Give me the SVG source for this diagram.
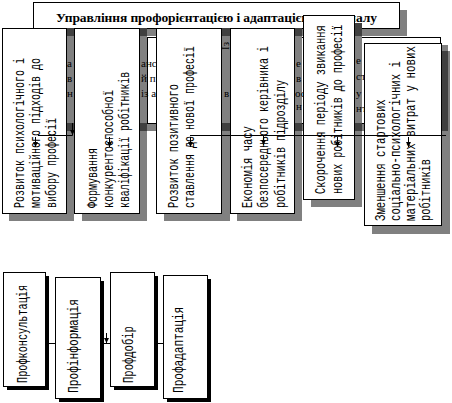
<svg xmlns="http://www.w3.org/2000/svg" width="452" height="403" viewBox="0 0 452 403">
<defs>
<marker id="ah" viewBox="0 0 6 6" refX="6" refY="3" markerWidth="5" markerHeight="5" markerUnits="userSpaceOnUse" orient="auto"><path d="M0,0 L6,3 L0,6 z" fill="#000"/></marker>
<style>
.box{fill:#fff;stroke:#000;stroke-width:1}
.sh{fill:#808080}
.dk{fill:#404040}
.bsh{fill:#000}
.vt{font-family:"Liberation Mono","DejaVu Sans Mono",monospace;font-size:14px;fill:#000}
.fr{font-family:"Liberation Serif","Times New Roman",serif;font-size:11px;fill:#000}
.ttl{font-family:"Liberation Serif","Times New Roman",serif;font-size:13.5px;font-weight:bold;fill:#000}
.ln{fill:none;stroke:#000;stroke-width:1}
</style>
</defs>
<rect width="452" height="403" fill="#fff"/>

<g id="title">
<rect class="sh" x="41" y="10" width="366" height="26"/>
<rect class="box" x="33.5" y="2.5" width="366" height="26"/>
<text class="ttl" x="56" y="22" textLength="321" lengthAdjust="spacing">Управління профорієнтацією і адаптацією персоналу</text>
</g>

<g id="hidden-layer">
<rect class="sh" x="9" y="123" width="439" height="8"/>
<rect class="sh" x="442" y="45" width="6" height="78"/>
<rect class="box" x="147.5" y="37.5" width="293" height="86"/>
</g>

<g id="shadows">
<rect class="sh" x="9" y="28" width="65" height="193"/>
<rect class="sh" x="82" y="28" width="65" height="193"/>
<rect class="sh" x="164" y="28" width="66" height="193"/>
<rect class="sh" x="237" y="28" width="65" height="193"/>
<rect class="sh" x="311" y="23" width="51" height="184"/>
<rect class="sh" x="372" y="51" width="78" height="183"/>
<rect class="dk" x="41" y="28" width="33" height="8"/>
<rect class="dk" x="82" y="28" width="65" height="8"/>
<rect class="dk" x="164" y="28" width="66" height="8"/>
<rect class="dk" x="237" y="28" width="65" height="8"/>
<rect class="dk" x="311" y="23" width="51" height="13"/>
<rect class="dk" x="9" y="123" width="65" height="8"/>
<rect class="dk" x="82" y="123" width="65" height="8"/>
<rect class="dk" x="164" y="123" width="66" height="8"/>
<rect class="dk" x="237" y="123" width="65" height="8"/>
<rect class="dk" x="311" y="123" width="51" height="8"/>
<rect class="dk" x="372" y="123" width="76" height="8"/>
<rect class="dk" x="442" y="51" width="6" height="72"/>
</g>

<g id="fragments">
<text class="fr" x="67" y="67">а</text>
<text class="fr" x="67" y="82">в</text>
<text class="fr" x="67" y="97">н</text>
<text class="fr" x="141" y="67">анс</text>
<text class="fr" x="141" y="82">й п</text>
<text class="fr" x="141" y="97">із а</text>
<text class="fr" transform="translate(229,50) rotate(-90)">Із</text>
<text class="fr" x="224" y="97">в</text>
<text class="fr" x="296" y="67">е</text>
<text class="fr" x="296" y="82">в</text>
<text class="fr" x="295" y="97">ос</text>
<text class="fr" x="296" y="110">н</text>
<text class="fr" x="356" y="64">е</text>
<text class="fr" x="356" y="80">ст</text>
<text class="fr" x="356" y="97">у</text>
<text class="fr" x="356" y="112">нт</text>
</g>

<g id="n1">
<rect class="box" x="2.5" y="28.5" width="64" height="185"/>
<text class="vt" transform="translate(24,208) rotate(-90) scale(0.714,1)">Розвиток психологічного і</text>
<text class="vt" transform="translate(40,208) rotate(-90) scale(0.714,1)">мотиваційного підходів до</text>
<text class="vt" transform="translate(56,208) rotate(-90) scale(0.714,1)">вибору професії</text>
</g>

<g id="n2">
<rect class="box" x="74.5" y="28.5" width="65" height="185"/>
<text class="vt" transform="translate(97,208) rotate(-90) scale(0.714,1)">Формування</text>
<text class="vt" transform="translate(113,208) rotate(-90) scale(0.74,1)">конкурентоспособної</text>
<text class="vt" transform="translate(129,208) rotate(-90) scale(0.705,1)">кваліфікації робітників</text>
</g>

<g id="n3">
<rect class="box" x="156.5" y="28.5" width="65" height="185"/>
<text class="vt" transform="translate(178,208) rotate(-90) scale(0.738,1)">Розвиток позитивного</text>
<text class="vt" transform="translate(194,208) rotate(-90) scale(0.714,1)">ставлення до нової професії</text>
</g>

<g id="n4">
<rect class="box" x="230.5" y="28.5" width="64" height="185"/>
<text class="vt" transform="translate(252,208) rotate(-90) scale(0.75,1)">Економія часу</text>
<text class="vt" transform="translate(268,208) rotate(-90) scale(0.714,1)">безпосереднього керівника і</text>
<text class="vt" transform="translate(285,208) rotate(-90) scale(0.727,1)">робітників підрозділу</text>
</g>

<g id="n5">
<rect class="box" x="303.5" y="15.5" width="51" height="184"/>
<text class="vt" transform="translate(325,194) rotate(-90) scale(0.745,1)">Скорочення періоду звикання</text>
<text class="vt" transform="translate(342,194) rotate(-90) scale(0.72,1)">нових робітників до професії</text>
</g>

<g id="n6">
<rect class="box" x="364.5" y="43.5" width="77" height="182"/>
<text class="vt" transform="translate(385,221) rotate(-90) scale(0.764,1)">Зменшення стартових</text>
<text class="vt" transform="translate(400,221) rotate(-90) scale(0.762,1)">соціально-психологічних і</text>
<text class="vt" transform="translate(415,221) rotate(-90) scale(0.771,1)">матеріальних витрат у нових</text>
<text class="vt" transform="translate(430,221) rotate(-90) scale(0.738,1)">робітників</text>
</g>

<g id="connectors">
<path class="ln" d="M72.5,123 V135.5 H38"/>
<path class="ln" d="M72.5,124 V135" marker-end="url(#ah)"/>
<path class="ln" d="M190,135.5 H446"/>
<path class="ln" d="M35.5,137 V147" marker-end="url(#ah)"/>
<path class="ln" d="M109.5,137 V147" marker-end="url(#ah)"/>
<path class="ln" d="M190.5,137 V147" marker-end="url(#ah)"/>
<path class="ln" d="M263.5,135 V145" marker-end="url(#ah)"/>
<path class="ln" d="M337.5,137 V147" marker-end="url(#ah)"/>
<path class="ln" d="M408.5,137 V147" marker-end="url(#ah)"/>
<path class="ln" d="M45.5,343.5 H163"/>
<path class="ln" d="M106.5,333 V343" marker-end="url(#ah)"/>
</g>

<g id="b1">
<rect class="bsh" x="7" y="276" width="42" height="114"/>
<rect class="box" x="3.5" y="272.5" width="42" height="114"/>
<text class="vt" transform="translate(27,383) rotate(-90) scale(0.73,1)">Профконсультація</text>
</g>
<g id="b2">
<rect class="bsh" x="59" y="281" width="45" height="121"/>
<rect class="box" x="55.5" y="277.5" width="45" height="121"/>
<text class="vt" transform="translate(78,393) rotate(-90) scale(0.8,1)">Профінформація</text>
</g>
<g id="b3">
<rect class="bsh" x="114" y="276" width="44" height="114"/>
<rect class="box" x="110.5" y="272.5" width="44" height="114"/>
<text class="vt" transform="translate(133,383) rotate(-90) scale(0.754,1)">Профдобір</text>
</g>
<g id="b4">
<rect class="bsh" x="167" y="279" width="44" height="123"/>
<rect class="box" x="163.5" y="275.5" width="44" height="123"/>
<text class="vt" transform="translate(183,393) rotate(-90) scale(0.79,1)">Профадаптація</text>
</g>
</svg>
